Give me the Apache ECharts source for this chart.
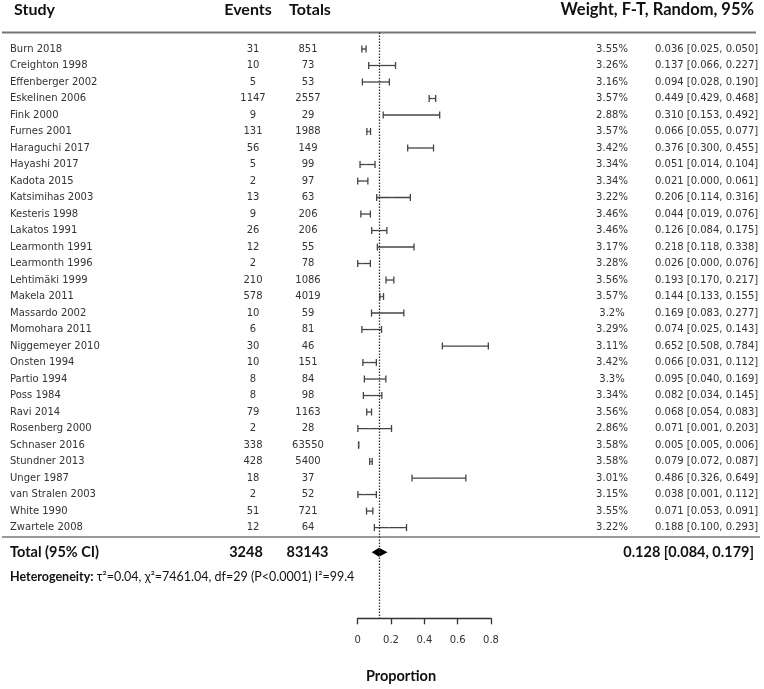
<!DOCTYPE html>
<html><head><meta charset="utf-8">
<script src="https://cdn.jsdelivr.net/npm/echarts@6/dist/echarts.min.js"></script>
<style>html,body{margin:0;padding:0;background:#fff}#c{width:764px;height:689px}</style>
</head><body><div id="c"></div>
<script>
const studies = ['Burn 2018','Creighton 1998','Effenberger 2002','Eskelinen 2006','Fink 2000','Furnes 2001','Haraguchi 2017','Hayashi 2017','Kadota 2015','Katsimihas 2003','Kesteris 1998','Lakatos 1991','Learmonth 1991','Learmonth 1996','Lehtimäki 1999','Makela 2011','Massardo 2002','Momohara 2011','Niggemeyer 2010','Onsten 1994','Partio 1994','Poss 1984','Ravi 2014','Rosenberg 2000','Schnaser 2016','Stundner 2013','Unger 1987','van Stralen 2003','White 1990','Zwartele 2008'];
const events = [31,10,5,1147,9,131,56,5,2,13,9,26,12,2,210,578,10,6,30,10,8,8,79,2,338,428,18,2,51,12];
const totals = [851,73,53,2557,29,1988,149,99,97,63,206,206,55,78,1086,4019,59,81,46,151,84,98,1163,28,63550,5400,37,52,721,64];
const weights = [3.55,3.26,3.16,3.57,2.88,3.57,3.42,3.34,3.34,3.22,3.46,3.46,3.17,3.28,3.56,3.57,3.2,3.29,3.11,3.42,3.3,3.34,3.56,2.86,3.58,3.58,3.01,3.15,3.55,3.22];
const est = [0.036,0.137,0.094,0.449,0.310,0.066,0.376,0.051,0.021,0.206,0.044,0.126,0.218,0.026,0.193,0.144,0.169,0.074,0.652,0.066,0.095,0.082,0.068,0.071,0.005,0.079,0.486,0.038,0.071,0.188];
const lo = [0.025,0.066,0.028,0.429,0.153,0.055,0.300,0.014,0.000,0.114,0.019,0.084,0.118,0.000,0.170,0.133,0.083,0.025,0.508,0.031,0.040,0.034,0.054,0.001,0.005,0.072,0.326,0.001,0.053,0.100];
const hi = [0.050,0.227,0.190,0.468,0.492,0.077,0.455,0.104,0.061,0.316,0.076,0.175,0.338,0.076,0.217,0.155,0.277,0.143,0.784,0.112,0.169,0.145,0.083,0.203,0.006,0.087,0.649,0.112,0.091,0.293];
const pooledEst = 0.128, pooledLo = 0.084, pooledHi = 0.179;
const totalEvents = 3248, totalTotals = 83143;
const heterogeneity = ['Heterogeneity:', ' τ²=0.04, χ²=7461.04, df=29 (P<0.0001) I²=99.4'];
const xTicks = [0, 0.2, 0.4, 0.6, 0.8];

const rowFont = '10px "DejaVu Sans"';
const rowColor = '#333';
const boldFam = 'Lato';
const TOTAL_ROW = studies.length + 0.5;

const chart = echarts.init(document.getElementById('c'), null, {renderer: 'canvas'});
const fmt = v => v.toFixed(3);

chart.setOption({
  animation: false,
  backgroundColor: '#fff',
  grid: {left: 357.7, width: 133.3, top: 32.5, bottom: 70.7, containLabel: false},
  xAxis: {
    type: 'value', position: 'bottom', min: xTicks[0], max: xTicks[xTicks.length - 1], interval: 0.2,
    axisLine: {show: true, onZero: false, lineStyle: {color: '#333', width: 1.3}},
    axisTick: {show: true, length: 6, lineStyle: {color: '#333', width: 1.3}},
    axisLabel: {margin: 17, color: '#333', fontFamily: 'DejaVu Sans', fontSize: 10,
      formatter: v => (Math.abs(v) < 1e-9 ? '0' : String(+v.toFixed(1)))},
    splitLine: {show: false}
  },
  yAxis: {type: 'value', inverse: true, min: -1, max: 34.5, show: false},
  series: [
    {
      type: 'custom', name: 'rows', clip: false,
      data: studies.map((s, i) => [i]),
      renderItem: (params, api) => {
        const i = api.value(0);
        const y = api.coord([0, i])[1];
        const st = (x, text, align) => ({type: 'text', x: x, y: y,
          style: {text: text, font: rowFont, fill: rowColor, align: align, verticalAlign: 'middle'}});
        return {type: 'group', children: [
          st(10, studies[i], 'left'),
          st(253, String(events[i]), 'center'),
          st(308, String(totals[i]), 'center'),
          st(612, weights[i] + '%', 'center'),
          st(655, fmt(est[i]) + ' [' + fmt(lo[i]) + ', ' + fmt(hi[i]) + ']', 'left')
        ]};
      }
    },
    {
      type: 'custom', name: 'ci', clip: false,
      data: studies.map((s, i) => [i, lo[i], hi[i], est[i]]),
      renderItem: (params, api) => {
        const i = api.value(0);
        const a = api.coord([api.value(1), i]);
        const b = api.coord([api.value(2), i]);
        const c = api.coord([api.value(3), i]);
        const st = {stroke: '#444', lineWidth: 1.3};
        const h = 3.5;
        return {type: 'group', children: [
          {type: 'line', shape: {x1: a[0], y1: a[1], x2: b[0], y2: b[1]}, style: st},
          {type: 'line', shape: {x1: a[0], y1: a[1] - h, x2: a[0], y2: a[1] + h}, style: st},
          {type: 'line', shape: {x1: b[0], y1: b[1] - h, x2: b[0], y2: b[1] + h}, style: st},
          {type: 'rect', shape: {x: c[0] - 0.6, y: c[1] - 0.6, width: 1.2, height: 1.2}, style: {fill: '#777'}}
        ]};
      },
      markLine: {
        silent: true, symbol: ['none', 'none'], label: {show: false},
        lineStyle: {type: [1.5, 1.5], color: '#333', width: 1.3},
        data: [{xAxis: pooledEst}]
      }
    },
    {
      type: 'custom', name: 'total', clip: false,
      data: [[TOTAL_ROW, pooledLo, pooledEst, pooledHi]],
      renderItem: (params, api) => {
        const r = api.value(0);
        const a = api.coord([api.value(1), r]);
        const c = api.coord([api.value(2), r]);
        const b = api.coord([api.value(3), r]);
        const y = c[1];
        const bf = '700 14.5px ' + boldFam;
        const t = (x, text, align) => ({type: 'text', x: x, y: y,
          style: {text: text, font: bf, fill: '#111', align: align, verticalAlign: 'middle'}});
        return {type: 'group', children: [
          {type: 'polygon', shape: {points: [[a[0], y], [c[0], y - 4.5], [b[0], y], [c[0], y + 4.5]]},
            style: {fill: '#000'}},
          t(10, 'Total (95% CI)', 'left'),
          t(246, String(totalEvents), 'center'),
          t(307.5, String(totalTotals), 'center'),
          t(754, fmt(pooledEst) + ' [' + fmt(pooledLo) + ', ' + fmt(pooledHi) + ']', 'right')
        ]};
      }
    }
  ],
  graphic: [
    {type: 'text', left: 14, top: 2, style: {text: 'Study', font: '700 16px ' + boldFam, fill: '#111'}},
    {type: 'text', x: 248, y: 10, style: {text: 'Events', font: '700 16px ' + boldFam, fill: '#111', align: 'center', verticalAlign: 'middle'}},
    {type: 'text', x: 310, y: 10, style: {text: 'Totals', font: '700 16px ' + boldFam, fill: '#111', align: 'center', verticalAlign: 'middle'}},
    {type: 'text', x: 754, y: 10, style: {text: 'Weight, F-T, Random, 95%', font: '700 16.5px ' + boldFam, fill: '#111', align: 'right', verticalAlign: 'middle'}},
    {type: 'line', shape: {x1: 2, y1: 32.5, x2: 756, y2: 32.5}, style: {stroke: '#777', lineWidth: 2}},
    {type: 'line', shape: {x1: 2, y1: 537, x2: 760, y2: 537}, style: {stroke: '#777', lineWidth: 1.5}},
    {type: 'text', x: 10, y: 577, style: {
      text: '{b|' + heterogeneity[0] + '}{n|' + heterogeneity[1] + '}',
      verticalAlign: 'middle',
      rich: {b: {font: '700 12.5px ' + boldFam, fill: '#111'}, n: {font: '12.5px ' + boldFam, fill: '#111'}}
    }},
    {type: 'text', x: 401, y: 676, style: {text: 'Proportion', font: '700 14.5px ' + boldFam, fill: '#111', align: 'center', verticalAlign: 'middle'}}
  ]
});
</script></body></html>
